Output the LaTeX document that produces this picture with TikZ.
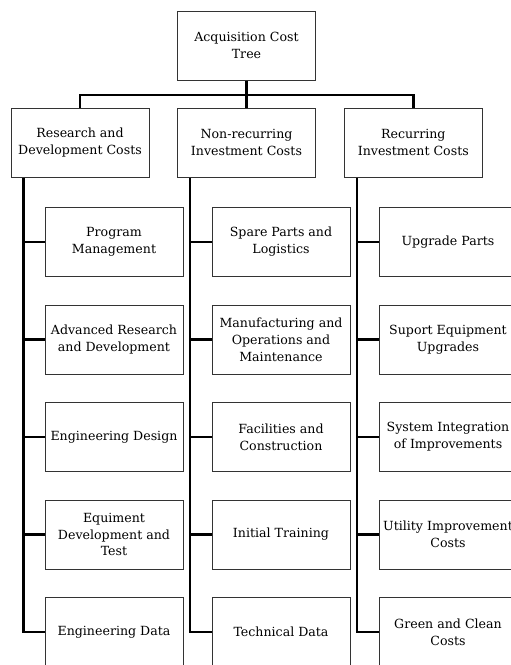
\documentclass[tikz,border=0pt]{standalone}
\usepackage{fontspec}
\setmainfont{DejaVu Serif}
\tikzset{
	costbox/.style={draw=black!80, line width=1pt, minimum width=138pt, minimum height=69pt, inner sep=1pt, align=center, font=\fontsize{12.6}{16.8}\selectfont},
	link/.style={line width=2.6pt, black}
}
\begin{document}
\begin{tikzpicture}[x=1pt, y=-1pt]
	\useasboundingbox (0,0) rectangle (511,665);
	% root and the three cost branches
	\node[costbox] (root) at (246.5,45.5) {Acquisition Cost\\Tree};
	\node[costbox] (rd) at (80,142.8) {Research and\\Development Costs};
	\node[costbox] (nri) at (246.5,142.8) {Non-recurring\\Investment Costs};
	\node[costbox] (ri) at (413.3,142.8) {Recurring\\Investment Costs};
	\draw[link] (root) -- (nri);
	\draw[link] (rd.north) -- ++(0,-13) -| (ri.north);

	% research and development
	\foreach \txt [count=\i] in {{Program\\Management}, {Advanced Research\\and Development}, {Engineering Design}, {Equiment\\Development and\\Test}, {Engineering Data}}
		\node[costbox] (rd\i) at (114, 144.5+97.5*\i) {\txt};
	% non-recurring investment
	\foreach \txt [count=\i] in {{Spare Parts and\\Logistics}, {Manufacturing and\\Operations and\\Maintenance}, {Facilities and\\Construction}, {Initial Training}, {Technical Data}}
		\node[costbox] (nri\i) at (281, 144.5+97.5*\i) {\txt};
	% recurring investment
	\foreach \txt [count=\i] in {{Upgrade Parts}, {Suport Equipment\\Upgrades}, {System Integration\\of Improvements}, {Utility Improvement\\Costs}, {Green and Clean\\Costs}}
		\node[costbox] (ri\i) at (448, 144.5+97.5*\i) {\txt};

	% spines
	\foreach \col in {rd, nri, ri}{
		\coordinate (\col spine) at ([xshift=13pt]\col.south west);
		\draw[link] (\col spine) |- (\col5.west);
		\foreach \i in {1,...,4}
			\draw[link] (\col\i.west) -- (\col\i.west -| \col spine);
	}
\end{tikzpicture}
\end{document}
